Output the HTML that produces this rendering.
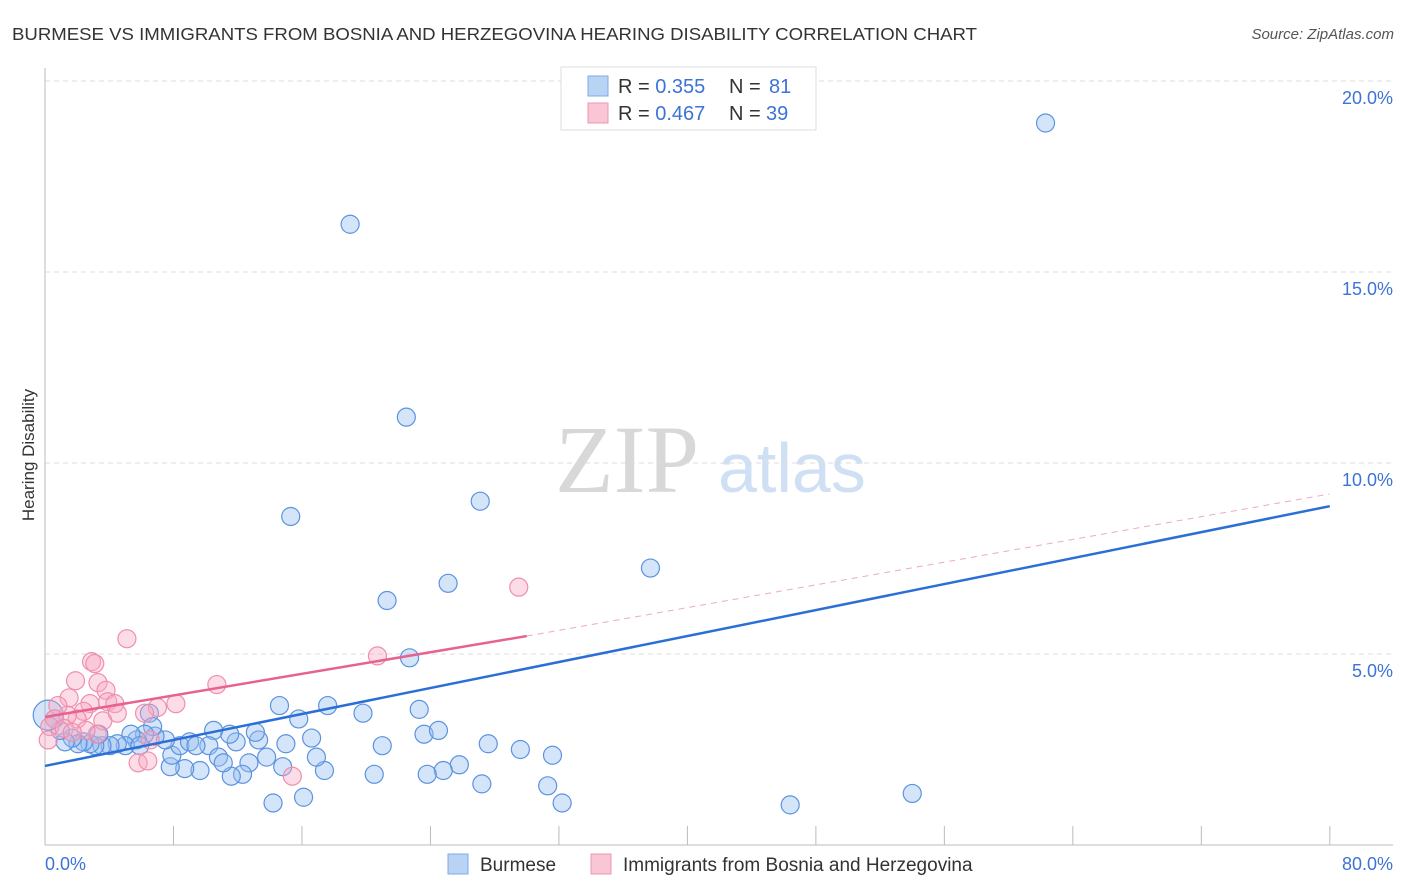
<!DOCTYPE html>
<html><head><meta charset="utf-8"><style>
body{margin:0;background:#fff;font-family:"Liberation Sans",sans-serif}
#wrap{position:relative;width:1406px;height:892px;overflow:hidden}
</style></head><body>
<div id="wrap">
<svg id="svg" width="1406" height="892" xmlns="http://www.w3.org/2000/svg">
<text x="12" y="40" font-size="17.5" fill="#333" textLength="965" lengthAdjust="spacingAndGlyphs">BURMESE VS IMMIGRANTS FROM BOSNIA AND HERZEGOVINA HEARING DISABILITY CORRELATION CHART</text>
<text x="1394" y="39" font-size="15" fill="#555" text-anchor="end" font-style="italic">Source: ZipAtlas.com</text>
<text x="34" y="455" font-size="17" fill="#333" text-anchor="middle" transform="rotate(-90 34 455)">Hearing Disability</text>
<text x="555" y="492" font-size="96" fill="#d8d8d8" font-family="Liberation Serif,serif">ZIP</text>
<text x="718" y="492" font-size="70" fill="#cfe0f5">atlas</text>
<g id="grid"></g><g id="pts"></g><g id="lines"></g>
<g>
<rect x="561" y="67" width="255" height="63" fill="#fff" stroke="#ddd"/>
<rect x="588" y="76" width="20" height="20" fill="#b9d3f5" stroke="#7fa9e6"/>
<rect x="588" y="103" width="20" height="20" fill="#fac6d6" stroke="#ee95b0"/>
<text x="618" y="93" font-size="20" fill="#333">R = <tspan fill="#3d73d6">0.355</tspan><tspan x="729">N = </tspan><tspan fill="#3d73d6" x="769">81</tspan></text>
<text x="618" y="120" font-size="20" fill="#333">R = <tspan fill="#3d73d6">0.467</tspan><tspan x="729">N = </tspan><tspan fill="#3d73d6" x="766">39</tspan></text>
</g>
<g>
<rect x="448" y="854" width="20" height="20" fill="#b9d3f5" stroke="#7fa9e6"/>
<text x="480" y="871" font-size="19" fill="#333">Burmese</text>
<rect x="591" y="854" width="20" height="20" fill="#fac6d6" stroke="#ee95b0"/>
<text x="623" y="871" font-size="19" fill="#333">Immigrants from Bosnia and Herzegovina</text>
</g>
<text x="45" y="870" font-size="18" fill="#3d73d6">0.0%</text>
<text x="1393" y="870" font-size="18" fill="#3d73d6" text-anchor="end">80.0%</text>
</svg></div>
<script>
const yTicks=[5,10,15,20];
const xTicks=[0,8,16,24,32,40,48,56,64,72,80];
const blueX=[62.3,19.0,22.5,15.3,27.1,25.1,21.3,37.7,22.7,14.6,17.6,19.8,23.3,15.8,6.5,23.6,24.5,21.0,27.6,29.6,31.6,25.8,24.8,23.8,20.5,27.2,31.3,32.2,46.4,54.0,16.1,14.2,17.4,16.9,16.6,15.0,14.8,13.8,13.3,13.1,12.7,12.3,11.6,11.9,11.5,10.5,10.2,10.8,11.1,9.65,8.7,7.8,7.9,8.4,9.0,7.5,6.85,6.7,6.2,5.7,5.35,5.0,4.5,4.05,3.55,3.1,2.8,2.4,2.05,1.7,1.25,0.95,0.6,0.2,3.35,5.9,9.4];
const blueY=[18.9,16.25,11.2,8.6,9.0,6.85,6.4,7.25,4.9,3.65,3.65,3.45,3.55,3.3,3.45,2.9,3.0,2.6,2.65,2.5,2.35,2.1,1.95,1.85,1.85,1.6,1.55,1.1,1.05,1.35,1.25,1.1,1.95,2.3,2.8,2.65,2.05,2.3,2.75,2.95,2.15,1.85,1.8,2.7,2.9,3.0,2.6,2.3,2.15,1.95,2.0,2.05,2.35,2.6,2.7,2.75,2.85,3.1,2.9,2.75,2.9,2.6,2.65,2.6,2.6,2.6,2.65,2.7,2.65,2.8,2.7,3.0,3.3,3.4,2.9,2.6,2.6];
const pinkX=[29.5,5.1,2.9,3.1,20.7,10.7,1.9,1.5,3.3,3.8,3.9,4.35,2.8,8.15,7.0,6.2,4.5,2.4,3.6,2.0,1.4,0.8,0.6,0.3,0.2,6.55,5.8,6.4,15.4,1.2,3.25,2.55,1.7];
const pinkY=[6.75,5.4,4.8,4.75,4.95,4.2,4.3,3.85,4.25,4.05,3.75,3.7,3.7,3.7,3.6,3.45,3.45,3.5,3.25,3.3,3.4,3.65,3.3,3.1,2.75,2.75,2.15,2.2,1.8,3.05,2.9,3.0,2.95];
const blueLine=[[0,2.07],[80,8.87]];
const pinkLine=[[0,3.35],[30,5.47]];
const pinkDash=[[30,5.47],[80,9.19]];
const X=v=>45+v*16.06, Y=v=>845-v*38.2;
const NS='http://www.w3.org/2000/svg';
function mk(tag,attrs,parent){const e=document.createElementNS(NS,tag);for(const k in attrs)e.setAttribute(k,attrs[k]);parent.appendChild(e);return e;}
const grid=document.getElementById('grid');
yTicks.forEach(t=>{
 const l=mk('line',{x1:45,x2:1393,y1:Y(t),y2:Y(t),stroke:'#ddd','stroke-dasharray':'5,4'},grid);
 
 
 const tx=mk('text',{x:1393,y:Y(t)+23,'font-size':18,fill:'#3d73d6','text-anchor':'end'},grid);
 tx.textContent=t.toFixed(1)+'%';
 
 
});
const ax=mk('line',{x1:45,x2:45,y1:68,y2:845,stroke:'#bbb'},grid);


const xa=mk('line',{x1:45,x2:1393,y1:845,y2:845,stroke:'#bbb'},grid);


xTicks.forEach(t=>{
 const l=mk('line',{x1:X(t),x2:X(t),y1:826,y2:845,stroke:'#bbb'},grid);
 
 
});
const pts=document.getElementById('pts');
blueX.forEach((v,i)=>{
 const c=mk('circle',{cx:X(v),cy:Y(blueY[i]),r:i==73?15:9,fill:'rgba(150,190,240,0.4)',stroke:'#5b93e0','stroke-width':1.2},pts);
 
 
});
pinkX.forEach((v,i)=>{
 const c=mk('circle',{cx:X(v),cy:Y(pinkY[i]),r:9,fill:'rgba(248,170,195,0.4)',stroke:'#ef8fad','stroke-width':1.2},pts);
 
 
});
const lines=document.getElementById('lines');
const bl=mk('line',{x1:X(blueLine[0][0]),y1:Y(blueLine[0][1]),x2:X(blueLine[1][0]),y2:Y(blueLine[1][1]),stroke:'#2b6fd6','stroke-width':2.5},lines);


const pl=mk('line',{x1:X(pinkLine[0][0]),y1:Y(pinkLine[0][1]),x2:X(pinkLine[1][0]),y2:Y(pinkLine[1][1]),stroke:'#e8628f','stroke-width':2.5},lines);


const pd=mk('line',{x1:X(pinkDash[0][0]),y1:Y(pinkDash[0][1]),x2:X(pinkDash[1][0]),y2:Y(pinkDash[1][1]),stroke:'#eeaabf','stroke-width':1,'stroke-dasharray':'6,5'},lines);


</script>
</body></html>
